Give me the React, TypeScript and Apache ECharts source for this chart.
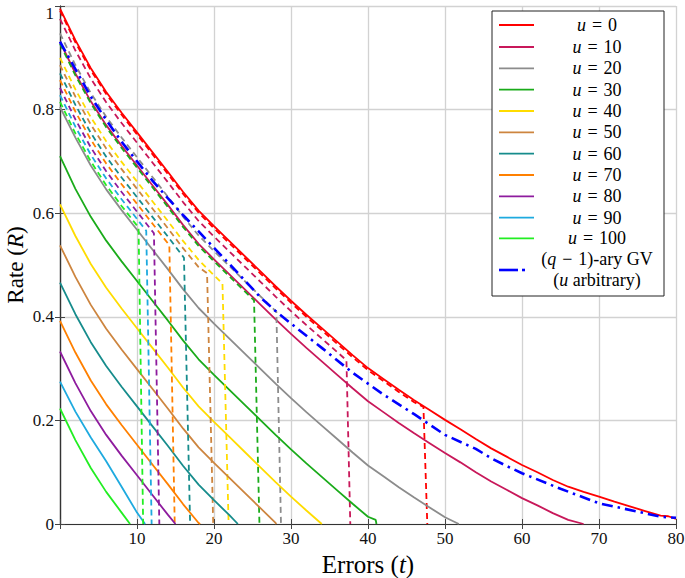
import React, { useEffect, useRef } from "react";
import * as echarts from "echarts";

const FONT = "'Liberation Serif', 'Times New Roman', serif";

const U_VALUES = [0, 10, 20, 30, 40, 50, 60, 70, 80, 90, 100];
const COLORS = ["#ff0000", "#c8185a", "#8c8c8c", "#1aab1a", "#ffdc00", "#cd853f", "#168c8c", "#ff8000", "#8e1b9e", "#1eaadf", "#22ee22"];
const GV_COLOR = "#0000ff";

const X_TICKS = [0, 10, 20, 30, 40, 50, 60, 70, 80];
const Y_TICKS = [0, 0.2, 0.4, 0.6, 0.8, 1];

// Solid curves (one per u)
const SOLID_U0 = [[0,0.995],[2,0.934],[4,0.88],[6,0.834],[8,0.794],[10,0.756],[12,0.718],[14,0.68],[16,0.641],[18,0.605],[20,0.575],[22,0.546],[24,0.517],[26,0.488],[28,0.459],[30,0.431],[32,0.404],[34,0.378],[36,0.352],[38,0.326],[40,0.301],[42,0.28],[44,0.259],[46,0.239],[48,0.22],[50,0.201],[52,0.183],[54,0.164],[56,0.146],[58,0.13],[60,0.114],[62,0.1],[64,0.085],[66,0.072],[68,0.062],[70,0.053],[72,0.043],[74,0.034],[76,0.025],[78,0.016],[79,0.015],[80,0.01]];
const SOLID_U10 = [[0,0.931],[2,0.87],[4,0.816],[6,0.77],[8,0.73],[10,0.692],[12,0.654],[14,0.616],[16,0.577],[18,0.541],[20,0.511],[22,0.482],[24,0.453],[26,0.424],[28,0.395],[30,0.367],[32,0.34],[34,0.314],[36,0.288],[38,0.262],[40,0.237],[42,0.216],[44,0.195],[46,0.175],[48,0.156],[50,0.137],[52,0.119],[54,0.1],[56,0.082],[58,0.066],[60,0.05],[62,0.036],[64,0.021],[66,0.008],[68,0]];
const SOLID_U20 = [[0,0.805],[2,0.746],[4,0.692],[6,0.646],[8,0.606],[10,0.568],[12,0.53],[14,0.492],[16,0.453],[18,0.417],[20,0.387],[22,0.358],[24,0.329],[26,0.3],[28,0.271],[30,0.243],[32,0.216],[34,0.19],[36,0.164],[38,0.138],[40,0.113],[42,0.092],[44,0.071],[46,0.051],[48,0.032],[50,0.013],[51.8,0]];
const SOLID_U30 = [[0,0.71],[2,0.647],[4,0.593],[6,0.547],[8,0.507],[10,0.469],[12,0.431],[14,0.393],[16,0.354],[18,0.318],[20,0.288],[22,0.259],[24,0.23],[26,0.201],[28,0.172],[30,0.144],[32,0.117],[34,0.091],[36,0.065],[38,0.039],[40,0.014],[41,0.008],[41.1,0]];
const SOLID_U40 = [[0,0.617],[2,0.556],[4,0.502],[6,0.456],[8,0.416],[10,0.378],[12,0.34],[14,0.302],[16,0.263],[18,0.227],[20,0.197],[22,0.168],[24,0.139],[26,0.11],[28,0.081],[30,0.053],[32,0.026],[34,0]];
const SOLID_U50 = [[0,0.538],[2,0.477],[4,0.423],[6,0.377],[8,0.337],[10,0.299],[12,0.261],[14,0.223],[16,0.184],[18,0.148],[20,0.118],[22,0.089],[24,0.06],[26,0.031],[28,0.002],[28.1,0]];
const SOLID_U60 = [[0,0.466],[2,0.405],[4,0.351],[6,0.305],[8,0.265],[10,0.227],[12,0.189],[14,0.151],[16,0.112],[18,0.076],[20,0.046],[22,0.017],[23.1,0]];
const SOLID_U70 = [[0,0.392],[2,0.331],[4,0.277],[6,0.231],[8,0.191],[10,0.153],[12,0.115],[14,0.077],[16,0.038],[18,0.002],[18.2,0]];
const SOLID_U80 = [[0,0.333],[2,0.272],[4,0.218],[6,0.172],[8,0.132],[10,0.094],[12,0.056],[14,0.018],[15,0]];
const SOLID_U90 = [[0,0.275],[2,0.217],[4,0.167],[6,0.121],[8,0.072],[10,0.022],[11.05,0]];
const SOLID_U100 = [[0,0.223],[2,0.162],[4,0.108],[6,0.062],[8,0.022],[9.1,0]];

// Dashed curves (one per u), ending with a drop to zero
const DASH_U0 = [[0,0.991],[2,0.93],[4,0.876],[6,0.83],[8,0.79],[10,0.752],[12,0.714],[14,0.676],[16,0.637],[18,0.601],[20,0.571],[22,0.542],[24,0.513],[26,0.484],[28,0.455],[30,0.427],[32,0.4],[34,0.374],[36,0.348],[38,0.322],[40,0.297],[42,0.276],[44,0.255],[46,0.235],[47.2,0.226],[47.7,0]];
const DASH_U10 = [[0,0.975],[2,0.914],[4,0.86],[6,0.814],[8,0.774],[10,0.736],[12,0.698],[14,0.66],[16,0.621],[18,0.585],[20,0.555],[22,0.526],[24,0.497],[26,0.468],[28,0.439],[30,0.411],[32,0.384],[34,0.358],[36,0.332],[37.2,0.316],[37.7,0]];
const DASH_U20 = [[0,0.947],[2,0.886],[4,0.832],[6,0.786],[8,0.746],[10,0.708],[12,0.67],[14,0.632],[16,0.593],[18,0.557],[20,0.527],[22,0.498],[24,0.469],[26,0.44],[28,0.411],[28.1,0.41],[28.7,0]];
const DASH_U30 = [[0,0.927],[2,0.866],[4,0.812],[6,0.766],[8,0.726],[10,0.688],[12,0.65],[14,0.612],[16,0.573],[18,0.537],[20,0.507],[22,0.478],[24,0.449],[25.2,0.432],[25.9,0]];
const DASH_U40 = [[0,0.9],[2,0.839],[4,0.785],[6,0.739],[8,0.699],[10,0.661],[12,0.623],[14,0.585],[16,0.546],[18,0.51],[20,0.48],[21.1,0.464],[21.9,0]];
const DASH_U50 = [[0,0.886],[2,0.825],[4,0.771],[6,0.725],[8,0.685],[10,0.647],[12,0.609],[14,0.571],[16,0.532],[18,0.496],[19.1,0.484],[19.9,0]];
const DASH_U60 = [[0,0.87],[2,0.809],[4,0.755],[6,0.709],[8,0.669],[10,0.631],[12,0.593],[14,0.555],[16,0.516],[16.1,0.514],[16.9,0]];
const DASH_U70 = [[0,0.857],[2,0.796],[4,0.742],[6,0.696],[8,0.656],[10,0.618],[12,0.58],[14,0.542],[14.2,0.538],[14.9,0]];
const DASH_U80 = [[0,0.842],[2,0.781],[4,0.727],[6,0.681],[8,0.641],[10,0.603],[12,0.565],[12.2,0.561],[12.9,0]];
const DASH_U90 = [[0,0.828],[2,0.767],[4,0.713],[6,0.667],[8,0.627],[10,0.589],[11.2,0.566],[11.9,0]];
const DASH_U100 = [[0,0.815],[2,0.754],[4,0.7],[6,0.654],[8,0.614],[10,0.576],[10.2,0.573],[10.8,0]];

// (q-1)-ary GV bound
const GV = [[0,0.931],[2,0.878],[4,0.825],[6,0.78],[8,0.738],[10,0.7],[12,0.663],[14,0.629],[16,0.596],[18,0.565],[20,0.533],[22,0.502],[24,0.47],[26,0.438],[28,0.411],[30,0.387],[34,0.34],[38,0.292],[42,0.25],[46,0.212],[48,0.192],[50,0.172],[54,0.145],[56,0.127],[58,0.112],[60,0.098],[65,0.068],[70,0.04],[75,0.024],[78,0.014],[80,0.012]];

const SOLIDS = [SOLID_U0, SOLID_U10, SOLID_U20, SOLID_U30, SOLID_U40, SOLID_U50, SOLID_U60, SOLID_U70, SOLID_U80, SOLID_U90, SOLID_U100];
const DASHES = [DASH_U0, DASH_U10, DASH_U20, DASH_U30, DASH_U40, DASH_U50, DASH_U60, DASH_U70, DASH_U80, DASH_U90, DASH_U100];

export default function App() {
  const ref = useRef<HTMLDivElement>(null);
  useEffect(() => {
    if (!ref.current) return;
    const chart = echarts.init(ref.current, null, { renderer: "svg" });

    const series: any[] = [];
    U_VALUES.forEach((u, i) => {
      series.push({
        name: "u = " + u,
        type: "line",
        data: SOLIDS[i],
        showSymbol: false,
        lineStyle: { color: COLORS[i], width: 1.8 },
        itemStyle: { color: COLORS[i] },
        z: 3,
      });
      series.push({
        name: "u = " + u + " (dashed)",
        type: "line",
        data: DASHES[i],
        showSymbol: false,
        lineStyle: { color: COLORS[i], width: 1.8, type: [6, 4] },
        itemStyle: { color: COLORS[i] },
        z: 3,
      });
    });
    series.push({
      name: "(q-1)-ary GV",
      type: "line",
      data: GV,
      showSymbol: false,
      lineStyle: { color: GV_COLOR, width: 2.6, type: [11, 5, 2.5, 5] },
      itemStyle: { color: GV_COLOR },
      z: 4,
    });

    // Legend drawn as graphic
    const lx = 492, ly = 11, lw = 172, lh = 285;
    const rowYs = [25, 47, 68.3, 89.7, 111, 132.3, 153.7, 175, 196.3, 217.7, 238.3];
    const textX = 597;
    const FS = 18;
    const richI = { i: { fontStyle: "italic", fontFamily: FONT, fontSize: FS, fill: "#000" } };
    const SP = "\u2004";
    const legendEls: any[] = [
      {
        type: "rect",
        shape: { x: lx, y: ly, width: lw, height: lh },
        style: { fill: "#fff", stroke: "#222", lineWidth: 1 },
        z: 100,
      },
    ];
    U_VALUES.forEach((u, i) => {
      legendEls.push({
        type: "line",
        shape: { x1: 499, y1: rowYs[i], x2: 534, y2: rowYs[i] },
        style: { stroke: COLORS[i], lineWidth: 1.8 },
        z: 101,
      });
      legendEls.push({
        type: "text",
        x: textX,
        y: rowYs[i],
        style: {
          text: "{i|u}" + SP + "=" + SP + u,
          rich: richI,
          fontFamily: FONT,
          fontSize: FS,
          fill: "#000",
          align: "center",
          verticalAlign: "middle",
        },
        z: 101,
      });
    });
    legendEls.push({
      type: "line",
      shape: { x1: 499, y1: 270, x2: 518, y2: 270 },
      style: { stroke: GV_COLOR, lineWidth: 2.6 },
      z: 101,
    });
    legendEls.push({
      type: "line",
      shape: { x1: 522, y1: 270, x2: 525, y2: 270 },
      style: { stroke: GV_COLOR, lineWidth: 2.6 },
      z: 101,
    });
    legendEls.push({
      type: "text",
      x: textX,
      y: 259,
      style: {
        text: "({i|q}" + SP + "\u2212" + SP + "1)-ary GV",
        rich: richI,
        fontFamily: FONT,
        fontSize: FS,
        fill: "#000",
        align: "center",
        verticalAlign: "middle",
      },
      z: 101,
    });
    legendEls.push({
      type: "text",
      x: textX,
      y: 280,
      style: {
        text: "({i|u} arbitrary)",
        rich: richI,
        fontFamily: FONT,
        fontSize: FS,
        fill: "#000",
        align: "center",
        verticalAlign: "middle",
      },
      z: 101,
    });

    const tickStyle = { inside: true, length: 5, lineStyle: { color: "#444", width: 1 } };
    const axisLineStyle = { show: true, lineStyle: { color: "#333", width: 1.2 } };
    const labelStyle = { fontFamily: FONT, fontSize: 17, color: "#111" };

    chart.setOption({
      animation: false,
      backgroundColor: "#fff",
      grid: { left: 60, right: 9, top: 6, bottom: 54, containLabel: false, outerBoundsMode: "none" },
      xAxis: [
        {
          type: "value",
          min: X_TICKS[0],
          max: X_TICKS[X_TICKS.length - 1],
          interval: 10,
          position: "bottom",
          axisLine: axisLineStyle,
          axisTick: tickStyle,
          splitLine: { show: true, lineStyle: { color: "#d2d2d2", width: 1.3 } },
          axisLabel: {
            ...labelStyle,
            margin: 6,
            formatter: (v: number) => (v === 0 ? "" : String(v)),
          },
          name: "{a|Errors (}{b|t}{a|)}",
          nameLocation: "middle",
          nameGap: 26,
          nameTextStyle: {
            rich: {
              a: { fontFamily: FONT, fontSize: 25, color: "#000" },
              b: { fontFamily: FONT, fontSize: 25, fontStyle: "italic", color: "#000" },
            },
          },
        },
        {
          type: "value",
          min: X_TICKS[0],
          max: X_TICKS[X_TICKS.length - 1],
          interval: 10,
          position: "top",
          axisLine: axisLineStyle,
          axisTick: tickStyle,
          splitLine: { show: false },
          axisLabel: { show: false },
        },
      ],
      yAxis: [
        {
          type: "value",
          min: Y_TICKS[0],
          max: Y_TICKS[Y_TICKS.length - 1],
          interval: 0.2,
          position: "left",
          axisLine: axisLineStyle,
          axisTick: tickStyle,
          splitLine: { show: true, lineStyle: { color: "#d2d2d2", width: 1.3 } },
          axisLabel: {
            ...labelStyle,
            margin: 6,
            lineHeight: 14,
            verticalAlignMaxLabel: "top",
            formatter: (v: number) => String(Math.round(v * 10) / 10),
          },
          name: "{a|Rate (}{b|R}{a|)}",
          nameLocation: "middle",
          nameGap: 33,
          nameMoveOverlap: false,
          nameTextStyle: {
            rich: {
              a: { fontFamily: FONT, fontSize: 23, lineHeight: 24, color: "#000" },
              b: { fontFamily: FONT, fontSize: 23, lineHeight: 24, fontStyle: "italic", color: "#000" },
            },
          },
        },
        {
          type: "value",
          min: Y_TICKS[0],
          max: Y_TICKS[Y_TICKS.length - 1],
          interval: 0.2,
          position: "right",
          axisLine: axisLineStyle,
          axisTick: tickStyle,
          splitLine: { show: false },
          axisLabel: { show: false },
        },
      ],
      series,
      graphic: legendEls,
    });

    return () => chart.dispose();
  }, []);

  return <div ref={ref} style={{ width: 685, height: 578, position: "absolute", left: 0, top: 0 }} />;
}
